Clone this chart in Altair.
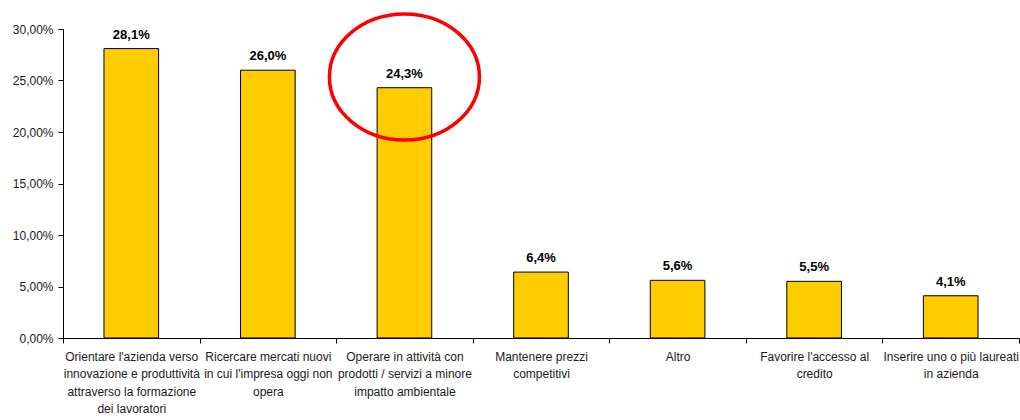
import altair as alt
import pandas as pd

categories = [
    "Orientare l'azienda verso|innovazione e produttività|attraverso la formazione|dei lavoratori",
    "Ricercare mercati nuovi|in cui l'impresa oggi non|opera",
    "Operare in attività con|prodotti / servizi a minore|impatto ambientale",
    "Mantenere prezzi|competitivi",
    "Altro",
    "Favorire l'accesso al|credito",
    "Inserire uno o più laureati|in azienda",
]
values = [0.281, 0.260, 0.243, 0.064, 0.056, 0.055, 0.041]
value_labels = ["28,1%", "26,0%", "24,3%", "6,4%", "5,6%", "5,5%", "4,1%"]

highlight_category = [categories[2]]
highlight_y = [0.2534]

df = pd.DataFrame({"cat": categories, "val": values, "lab": value_labels})
hl = pd.DataFrame({"cat": highlight_category, "val": highlight_y})

FONT = "Liberation Sans"

x_enc = alt.X(
    "cat:N",
    sort=categories,
    title=None,
    scale=alt.Scale(paddingInner=0, paddingOuter=0),
    axis=alt.Axis(
        labelAngle=0,
        labelExpr="isValid(datum.value) && datum.value != 'undefined' ? split(datum.value, '|') : ''",
        labelFont=FONT,
        labelFontSize=12,
        labelColor="#1a1a1a",
        labelLineHeight=17.5,
        labelPadding=8,
        labelLimit=200,
        tickBand="extent",
        tickSize=5,
        tickColor="black",
        domainColor="black",
        grid=False,
    ),
)
y_enc = alt.Y(
    "val:Q",
    title=None,
    scale=alt.Scale(domain=[0, 0.30], nice=False),
    axis=alt.Axis(
        values=[0, 0.05, 0.10, 0.15, 0.20, 0.25, 0.30],
        labelExpr="replace(format(datum.value, '.2%'), '.', ',')",
        labelFont=FONT,
        labelFontSize=12,
        labelColor="#1a1a1a",
        labelPadding=5,
        tickSize=5,
        tickColor="black",
        domainColor="black",
        grid=False,
    ),
)

bars = alt.Chart(df).mark_bar(
    color="#FFCC00", stroke="black", strokeWidth=1, width={"band": 0.4}
).encode(x=x_enc, y=y_enc)

texts = alt.Chart(df).mark_text(
    font=FONT, fontSize=13, fontWeight="bold", baseline="bottom", dy=-7, color="black"
).encode(x=alt.X("cat:N", sort=categories), y="val:Q", text="lab:N")

b = 0.84
k = 0.5523
ellipse_path = (
    f"M 1 0 C 1 {k*b:.4f} {k:.4f} {b} 0 {b} "
    f"C {-k:.4f} {b} -1 {k*b:.4f} -1 0 "
    f"C -1 {-k*b:.4f} {-k:.4f} {-b} 0 {-b} "
    f"C {k:.4f} {-b} 1 {-k*b:.4f} 1 0 Z"
)
ellipse = alt.Chart(hl).mark_point(
    shape=ellipse_path, size=22500, filled=False, stroke="#FF0000", strokeWidth=3.5, opacity=1
).encode(x=alt.X("cat:N", sort=categories), y="val:Q")

chart = (
    alt.layer(bars, texts, ellipse)
    .properties(
        width=956,
        height=309,
        autosize=alt.AutoSizeParams(type="none"),
        padding={"left": 63, "top": 29, "right": 1, "bottom": 82},
        background="white",
    )
    .configure_view(stroke=None)
)

chart.save("out.html", embed_options={"renderer": "svg", "actions": False})
